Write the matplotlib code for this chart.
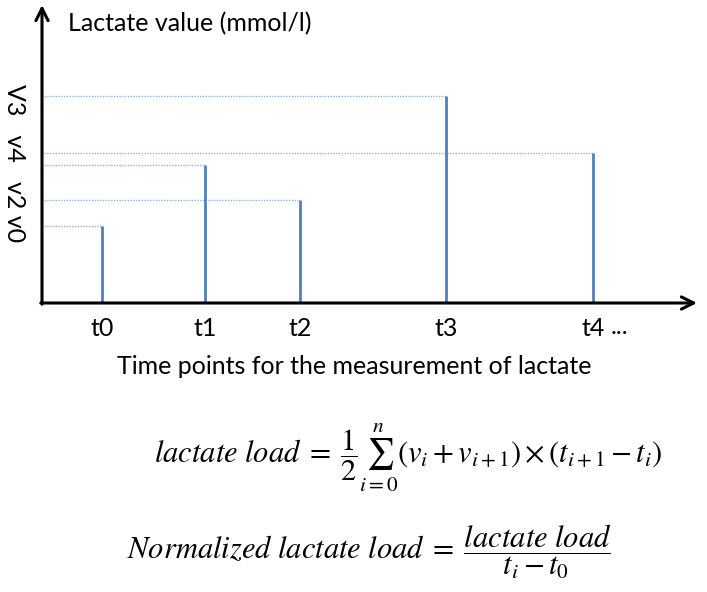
import matplotlib
matplotlib.use("Agg")
import matplotlib.pyplot as plt

times = [1.0, 2.72, 4.3, 6.73, 9.18]
values = [1.92, 3.45, 2.58, 5.18, 3.75]
time_labels = ["t0", "t1", "t2", "t3", "t4"]
value_label = "V3   v4   v2 v0"

plt.rcParams['font.family'] = ['Lato', 'DejaVu Sans']
plt.rcParams['mathtext.fontset'] = 'stix'

W, H = 707, 592
fig = plt.figure(figsize=(W / 100, H / 100), dpi=100)
# axes box in pixels: x 42..697, y 5..303
ax = fig.add_axes([42 / W, 1 - 303 / H, 655 / W, 298 / H])
xmax = 655 / 60
ymax = 298 / 40
ax.set_xlim(0, xmax)
ax.set_ylim(0, ymax)
for s in ax.spines.values():
    s.set_visible(False)

# dotted guide lines and stems
for t, v in zip(times, values):
    ax.plot([0.04, t], [v, v], color='#8db3e2', lw=1.0, ls=(0, (1, 1)))
for t, v in zip(times, values):
    ax.plot([t, t], [0, v], color='#4f81bd', lw=2.0, solid_capstyle='butt')

# axis arrows
ax.annotate('', xy=(xmax, 0), xytext=(-0.02, 0),
            arrowprops=dict(arrowstyle='->', lw=2.2, color='black',
                            mutation_scale=22, shrinkA=0, shrinkB=0),
            annotation_clip=False)
ax.annotate('', xy=(0, ymax), xytext=(0, -0.03),
            arrowprops=dict(arrowstyle='->', lw=2.2, color='black',
                            mutation_scale=22, shrinkA=0, shrinkB=0),
            annotation_clip=False)

ax.set_xticks(times)
ax.set_xticklabels(time_labels, fontsize=18)
ax.tick_params(axis='x', length=0, pad=10)
ax.set_yticks([])
ax.text(times[-1] + 0.3, -0.6, '...', fontsize=18, ha='left', va='center')

fig.text(68 / W, 1 - 24 / H, 'Lactate value (mmol/l)', fontsize=18,
         ha='left', va='center')
fig.text(14 / W, 1 - 163 / H, value_label, rotation=-90, fontsize=18,
         ha='center', va='center')
fig.text(354 / W, 1 - 366 / H, 'Time points for the measurement of lactate',
         fontsize=18, ha='center', va='center')

fig.text(408 / W, 1 - 458 / H,
         r'$lactate\ load\;=\;\dfrac{1}{2}\sum_{i=0}^{n}(v_i + v_{i+1}) \times (t_{i+1} - t_i)$',
         fontsize=22, ha='center', va='center')
fig.text(369 / W, 1 - 552 / H,
         r'$Normalized\ lactate\ load\;=\;\dfrac{lactate\ load}{t_i - t_0}$',
         fontsize=22, ha='center', va='center')

fig.savefig('out.png', dpi=100, facecolor='white')
